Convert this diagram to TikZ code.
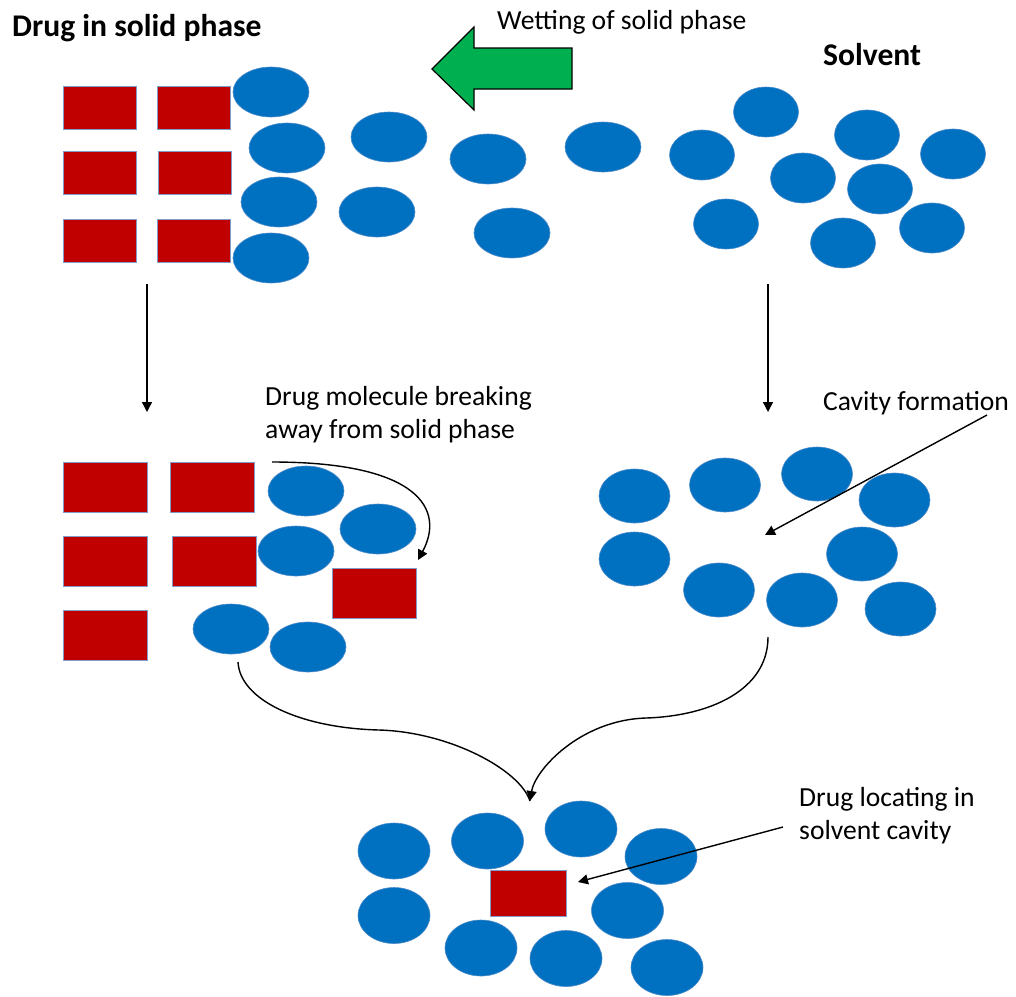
\documentclass[tikz,border=0pt]{standalone}
\usepackage{fontspec}
\setmainfont{Carlito}
\usetikzlibrary{arrows.meta}
\definecolor{molblue}{HTML}{0070C0}
\definecolor{drugred}{HTML}{C00000}
\definecolor{arrgreen}{HTML}{00B050}
\definecolor{rectedge}{HTML}{7F9CCB}
\definecolor{moledge}{HTML}{4F8CC9}
\begin{document}
\begin{tikzpicture}[x=1pt,y=-1pt,
  mol/.style={fill=molblue,draw=moledge,line width=0.6pt},
  drug/.style={fill=drugred,draw=rectedge,line width=0.8pt},
  conn/.style={line width=1.4pt,-{Triangle[length=10pt,width=10pt]}},
  lbl/.style={inner sep=0pt,anchor=base west,font=\fontsize{27.6}{33}\selectfont},
  ttl/.style={inner sep=0pt,anchor=base west,font=\fontsize{31.6}{37}\selectfont\bfseries}]
\useasboundingbox (0,0) rectangle (1016,996);

% ---- top left: drug in solid phase
\foreach \x/\y in {63/86,157/86,63/151,158/151,63/219,157/219}
  \path[drug] (\x,\y) rectangle ++(73,43);
\foreach \x/\y in {271/92,287/148,279/202,271/258,389/137,488/159,603/147,377/212,512/233}
  \path[mol] (\x,\y) ellipse [x radius=38, y radius=25];
% ---- top right: solvent
\foreach \x/\y in {766/112,702/155,867/135,953/154,803/178,880/189,726/224,843/243,932/228}
  \path[mol] (\x,\y) ellipse [x radius=32.5, y radius=25];

% ---- green wetting arrow
\path[fill=arrgreen,draw=black,line width=1.2pt]
  (432,69) -- (474,27) -- (474,48) -- (572,48) -- (572,89) -- (474,89) -- (474,110) -- cycle;

% ---- middle left
\foreach \x/\y in {63/462,170/462,63/536,172/536,63/610,332/568}
  \path[drug] (\x,\y) rectangle ++(84,50);
\foreach \x/\y in {306/491,378/529,296/551,231/629,308/647}
  \path[mol] (\x,\y) ellipse [x radius=38, y radius=25];

% ---- middle right
\foreach \x/\y in {634.5/496,725/485,817/474,894.5/500,634.5/559,862/554,719/590,802/600,900.5/609}
  \path[mol] (\x,\y) ellipse [x radius=35.5, y radius=27];

% ---- bottom
\foreach \x/\y in {394/851,487.5/841,581/829,661/856.5,394/915.5,627.5/910.5,481/948,566/958.5,667/967.5}
  \path[mol] (\x,\y) ellipse [x radius=36, y radius=28];
\path[drug] (490,870) rectangle (566,916);

% ---- labels
\node[ttl] (t1) at (12,36) {Drug in solid phase};
\node[ttl] (t2) at (823,65) {Solvent};
\node[lbl] (l1) at (497,29) {Wetting of solid phase};
\node[lbl] (l2) at (265,405) {\begin{tabular}[t]{@{}l@{}}Drug molecule breaking\\away from solid phase\end{tabular}};
\node[lbl] (l3) at (823,410) {Cavity formation};
\node[lbl] (l4) at (799,806) {\begin{tabular}[t]{@{}l@{}}Drug locating in\\solvent cavity\end{tabular}};

% ---- connector end points
\coordinate (dlA) at (147,284);
\coordinate (dlB) at (147,412);
\coordinate (drA) at (768,284);
\coordinate (drB) at (768,412);
\coordinate (cvA) at (987,415);
\coordinate (cvB) at (765,535);
\coordinate (bkA) at (272,462);
\coordinate (bkB) at (418,560);
\coordinate (mgL) at (238,662);
\coordinate (mgR) at (768,637);
\coordinate (mgT) at (530,801);
\coordinate (lcA) at (783,827);
\coordinate (lcB) at (578,882);

\draw[conn] (dlA) -- (dlB);
\draw[conn] (drA) -- (drB);
\draw[conn] (cvA) -- (cvB);
\draw[conn] (bkA) .. controls (420,462) and (445,510) .. (bkB);
\draw[line width=1.4pt] (mgL) .. controls (240,700) and (300,728) .. (379,730) .. controls (450,732) and (520,770) .. (mgT);
\draw[conn] (mgR) .. controls (768,690) and (710,716) .. (646,718) .. controls (580,720) and (535,770) .. (mgT);
\draw[conn] (lcA) -- (lcB);
\end{tikzpicture}
\end{document}
